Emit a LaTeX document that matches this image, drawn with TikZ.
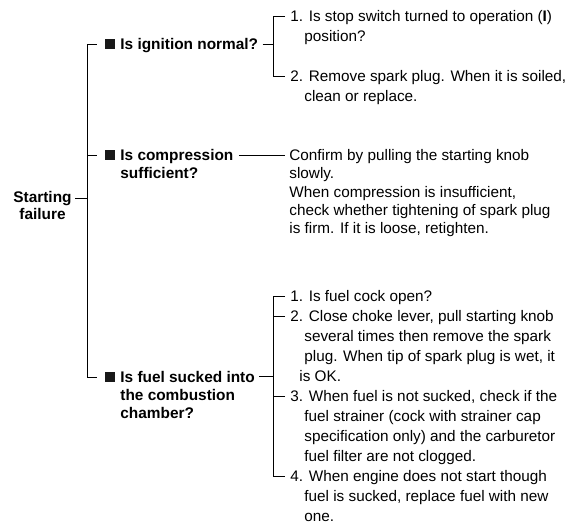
\documentclass[tikz,border=0pt]{standalone}
\usepackage{fontspec}
\setmainfont{Liberation Sans}
\usetikzlibrary{positioning}
\newcommand{\textrows}[2][l]{\begin{tabular}[t]{@{}#1@{}}#2\end{tabular}}

\begin{document}
\begin{tikzpicture}[x=1pt, y=-1pt, line width=0.8pt,
  every node/.style={inner sep=0pt, font=\fontsize{15.3}{20}\selectfont},
  qtext/.style={anchor=base west, font=\fontsize{15.4}{18}\selectfont\bfseries},
  item/.style={anchor=base west},
  qbox/.style={fill=black!90, minimum width=10pt, minimum height=10pt}]
	\useasboundingbox (0,0) rectangle (567,522);

	\node[anchor=base, font=\fontsize{15.4}{16.5}\selectfont\bfseries] (start) at (42.5,202.5) {\textrows[c]{Starting\\failure}};
	\coordinate (s0) at (75,198);
	\coordinate (s1) at (87,198);
	\coordinate (top) at (87,44);
	\coordinate (mid) at (87,155);
	\coordinate (bot) at (87,377);

	\node[qbox] (b1) at (110,44) {};
	\node[qtext] (q1) at (120,49.5) {Is ignition normal?};
	\node[qbox] (b2) at (110,155) {};
	\node[qtext] (q2) at (120,160.5) {\textrows{Is compression\\sufficient?}};
	\node[qbox] (b3) at (110,377) {};
	\node[qtext] (q3) at (120,382.5) {\textrows{Is fuel sucked into\\the combustion\\chamber?}};

	\draw (s0) -- (s1);
	\draw ([xshift=-8pt]b1.west) -- (top) -- (bot) -- ([xshift=-8pt]b3.west);
	\draw (mid) -- ([xshift=-8pt]b2.west);

	% ignition
	\coordinate (k0) at (273,44);
	\coordinate (k1) at (273,16);
	\coordinate (k2) at (273,76);
	\node[item] (i1) at (290,21.5) {\textrows{1. Is stop switch turned to operation (\textbf{I})\\\hspace*{14pt}position?}};
	\node[item] (i2) at (290,81.5) {\textrows{2. Remove spark plug. When it is soiled,\\\hspace*{14pt}clean or replace.}};
	\draw ([xshift=4pt]q1.east |- k0) -- (k0);
	\draw ([xshift=-5pt]i1.west |- k1) -- (k1) -- (k2) -- ([xshift=-5pt]i2.west |- k2);

	% compression
	\coordinate (c0) at (285,155);
	\node[item, font=\fontsize{15.3}{18.3}\selectfont] (comp) at (289,160.5) {\textrows{Confirm by pulling the starting knob\\slowly.\\When compression is insufficient,\\check whether tightening of spark plug\\is firm. If it is loose, retighten.}};
	\draw ([xshift=5pt]q2.east |- c0) -- (c0);

	% fuel
	\coordinate (f0) at (273,376);
	\coordinate (f1) at (273,296);
	\coordinate (f2) at (273,316);
	\coordinate (f3) at (273,396);
	\coordinate (f4) at (273,476);
	\node[item] (j1) at (290,301) {1. Is fuel cock open?};
	\node[item] (j2) at (290,321) {\textrows{2. Close choke lever, pull starting knob\\\hspace*{14pt}several times then remove the spark\\\hspace*{14pt}plug. When tip of spark plug is wet, it\\\hspace*{9pt}is OK.}};
	\node[item] (j3) at (290,401) {\textrows{3. When fuel is not sucked, check if the\\\hspace*{14pt}fuel strainer (cock with strainer cap\\\hspace*{14pt}specification only) and the carburetor\\\hspace*{14pt}fuel filter are not clogged.}};
	\node[item] (j4) at (290,481) {\textrows{4. When engine does not start though\\\hspace*{14pt}fuel is sucked, replace fuel with new\\\hspace*{14pt}one.}};
	\draw ([xshift=4pt]q3.east |- f0) -- (f0);
	\draw ([xshift=-5pt]j1.west |- f1) -- (f1) -- (f4) -- ([xshift=-5pt]j4.west |- f4);
	\draw ([xshift=-5pt]j2.west |- f2) -- (f2);
	\draw ([xshift=-5pt]j3.west |- f3) -- (f3);
\end{tikzpicture}
\end{document}
